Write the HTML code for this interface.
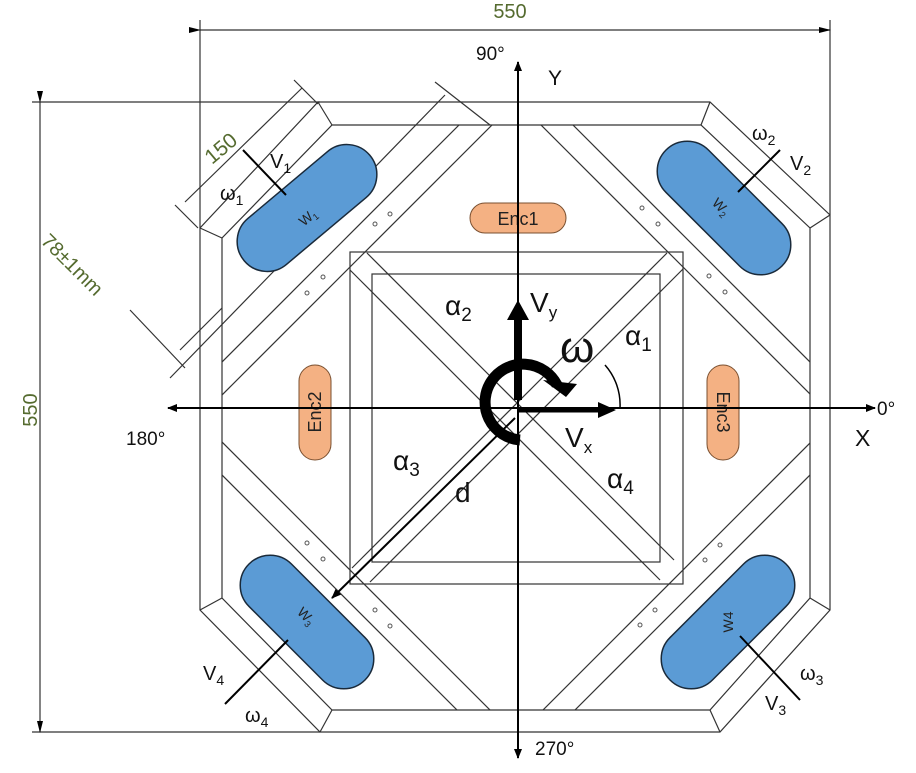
<!DOCTYPE html>
<html><head><meta charset="utf-8"><style>
html,body{margin:0;padding:0;background:#fff;overflow:hidden}
svg{display:block;font-family:"Liberation Sans",sans-serif}
</style></head><body>
<svg width="916" height="773" viewBox="0 0 916 773">
<defs>
<clipPath id="ioct"><polygon points="332,125 701,125 810,228 810,598 710,710 332,710 222,598 222,238"/></clipPath>
<marker id="ah" markerWidth="10" markerHeight="8" refX="9" refY="4" orient="auto" markerUnits="userSpaceOnUse"><path d="M0,0 L10,4 L0,8z" fill="#000"/></marker>
<marker id="ahs" markerWidth="12" markerHeight="6" refX="11" refY="3" orient="auto" markerUnits="userSpaceOnUse"><path d="M0,0 L12,3 L0,6z" fill="#000"/></marker>
</defs>
<g stroke="#333" stroke-width="1.2" fill="none">
<g>
<line x1="200" y1="20" x2="200" y2="228"/><line x1="830" y1="20" x2="830" y2="215"/>
<line x1="200" y1="30" x2="830" y2="30" marker-start="url(#ahs)" marker-end="url(#ahs)"/>
<line x1="32" y1="102" x2="320" y2="102"/><line x1="32" y1="732" x2="320" y2="732"/>
<line x1="40" y1="102" x2="40" y2="732" marker-start="url(#ahs)" marker-end="url(#ahs)"/>
<line x1="185" y1="202" x2="302" y2="88"/>
<line x1="175" y1="205" x2="198" y2="228"/><line x1="294" y1="80" x2="318" y2="104"/>
<line x1="170" y1="378" x2="445" y2="95"/>
<line x1="130" y1="310" x2="185" y2="368"/><line x1="435" y1="82" x2="490" y2="125"/>
<line x1="180" y1="350" x2="222" y2="308"/>
</g>
<polygon points="318,102 710,102 830,215 830,610 720,732 320,732 200,610 200,228"/>
<polygon points="332,125 701,125 810,228 810,598 710,710 332,710 222,598 222,238"/>
<g>
<line x1="318" y1="102" x2="332" y2="125"/><line x1="200" y1="228" x2="222" y2="238"/>
<line x1="710" y1="102" x2="701" y2="125"/><line x1="830" y1="215" x2="810" y2="228"/>
<line x1="200" y1="610" x2="222" y2="598"/><line x1="320" y1="732" x2="332" y2="710"/>
<line x1="830" y1="610" x2="810" y2="598"/><line x1="720" y1="732" x2="710" y2="710"/>
</g>
<g>
<rect x="350" y="252" width="333" height="332"/>
<rect x="372" y="274" width="288" height="288"/>
</g>
<g clip-path="url(#ioct)">
<line x1="0" y1="584" x2="584" y2="0"/><line x1="0" y1="617" x2="617" y2="0"/>
<line x1="416" y1="0" x2="1100" y2="684"/><line x1="448" y1="0" x2="1100" y2="652"/>
<line x1="0" y1="253" x2="800" y2="1053"/><line x1="0" y1="220" x2="800" y2="1020"/>
<line x1="1253" y1="0" x2="0" y2="1253"/><line x1="1285" y1="0" x2="0" y2="1285"/>
</g>
<g>
<line x1="352" y1="568" x2="667" y2="253"/><line x1="370" y1="582" x2="683" y2="269"/>
<line x1="367" y1="253" x2="674" y2="560"/><line x1="350" y1="270" x2="660" y2="580"/>
</g>
</g>
<g fill="#fff" stroke="#555" stroke-width="1">
<circle cx="375" cy="224" r="2"/><circle cx="390" cy="214" r="2"/><circle cx="307" cy="293" r="2"/><circle cx="323" cy="277" r="2"/>
<circle cx="642" cy="208" r="2"/><circle cx="658" cy="224" r="2"/><circle cx="709" cy="276" r="2"/><circle cx="725" cy="292" r="2"/>
<circle cx="307" cy="543" r="2"/><circle cx="323" cy="559" r="2"/><circle cx="375" cy="610" r="2"/><circle cx="390" cy="626" r="2"/>
<circle cx="640" cy="625" r="2"/><circle cx="655" cy="610" r="2"/><circle cx="705" cy="560" r="2"/><circle cx="720" cy="545" r="2"/>
</g>
<g stroke="#1a2a3a" stroke-width="1.5" fill="#5b9bd5">
<rect x="-82" y="-30" width="164" height="60" rx="30" transform="translate(307,208) rotate(-40)"/>
<rect x="-82" y="-30" width="164" height="60" rx="30" transform="translate(724,208) rotate(45)"/>
<rect x="-82" y="-30" width="164" height="60" rx="30" transform="translate(307,622) rotate(45)"/>
<rect x="-82" y="-30" width="164" height="60" rx="30" transform="translate(728,622) rotate(-45)"/>
</g>
<g font-size="14" fill="#222">
<text x="297" y="222" transform="rotate(-40 307 215)">W<tspan font-size="9" dy="3">1</tspan></text>
<text x="712" y="214" transform="rotate(45 724 208)">W<tspan font-size="9" dy="3">2</tspan></text>
<text x="296" y="622" transform="rotate(45 307 618)">W<tspan font-size="9" dy="3">3</tspan></text>
<text x="728" y="627" text-anchor="middle" transform="rotate(-90 728 622)">W4</text>
</g>
<g stroke="#000" stroke-width="2">
<line x1="243" y1="150" x2="286" y2="195"/>
<line x1="780" y1="150" x2="738" y2="192"/><line x1="225" y1="704" x2="288" y2="640"/>
<line x1="740" y1="636" x2="800" y2="700"/>
</g>
<g fill="#f4b183" stroke="#7a5030" stroke-width="1">
<rect x="470" y="203" width="96" height="30" rx="15"/>
<rect x="299" y="365" width="32" height="95" rx="16"/>
<rect x="707" y="365" width="32" height="95" rx="16"/>
</g>
<g font-size="18" fill="#222">
<text x="518" y="225" text-anchor="middle">Enc1</text>
<text x="315" y="418" text-anchor="middle" transform="rotate(-90 315 412)">Enc2</text>
<text x="723" y="418" text-anchor="middle" transform="rotate(90 723 412)">Enc3</text>
</g>
<g stroke="#000" stroke-width="2">
<line x1="518" y1="408" x2="875" y2="408" marker-end="url(#ah)"/>
<line x1="518" y1="408" x2="168" y2="408" marker-end="url(#ah)"/>
<line x1="518" y1="420" x2="518" y2="62" marker-end="url(#ah)"/>
<line x1="518" y1="420" x2="518" y2="758" marker-end="url(#ah)"/>
<line x1="515" y1="418" x2="332" y2="598" marker-end="url(#ah)"/>
</g>
<g>
<path d="M520,440 A38,38 0 1,1 557,385" stroke="#000" stroke-width="11" fill="none"/>
<path d="M543,380 L577,384 L566,397z" fill="#000"/>
<line x1="518" y1="400" x2="518" y2="318" stroke="#000" stroke-width="8"/>
<path d="M507,320 L518,300 L529,320z" fill="#000"/>
<line x1="518" y1="410" x2="600" y2="410" stroke="#000" stroke-width="5"/>
<path d="M598,402 L616,410 L598,418z" fill="#000"/>
<path d="M620,408 A60,60 0 0,0 605,365" stroke="#000" stroke-width="1.5" fill="none"/>
</g>
<g fill="#111">
<text x="510" y="18" font-size="20" fill="#556b2f" text-anchor="middle">550</text>
<text x="30" y="417" font-size="20" fill="#556b2f" text-anchor="middle" transform="rotate(-90 30 410)">550</text>
<text x="212" y="165" font-size="21" fill="#556b2f" transform="rotate(-40 212 165)">150</text>
<text x="40" y="242" font-size="20" fill="#556b2f" transform="rotate(45 40 242)">78±1mm</text>
<text x="476" y="60" font-size="19">90°</text>
<text x="548" y="85" font-size="21">Y</text>
<text x="126" y="445" font-size="19">180°</text>
<text x="877" y="415" font-size="19">0°</text>
<text x="855" y="446" font-size="23">X</text>
<text x="535" y="755" font-size="19">270°</text>
<text x="530" y="312" font-size="28">V<tspan font-size="17" dy="6">y</tspan></text>
<text x="565" y="447" font-size="28">V<tspan font-size="17" dy="6">x</tspan></text>
<text x="560" y="362" font-size="44">ω</text>
<text x="625" y="345" font-size="28">α<tspan font-size="19" dy="6">1</tspan></text>
<text x="445" y="315" font-size="28">α<tspan font-size="19" dy="6">2</tspan></text>
<text x="393" y="470" font-size="28">α<tspan font-size="19" dy="6">3</tspan></text>
<text x="607" y="488" font-size="28">α<tspan font-size="19" dy="6">4</tspan></text>
<text x="455" y="502" font-size="28">d</text>
<text x="220" y="200" font-size="20">ω<tspan font-size="14" dy="5">1</tspan></text>
<text x="270" y="168" font-size="20">V<tspan font-size="14" dy="5">1</tspan></text>
<text x="752" y="140" font-size="20">ω<tspan font-size="14" dy="5">2</tspan></text>
<text x="790" y="170" font-size="20">V<tspan font-size="14" dy="5">2</tspan></text>
<text x="800" y="680" font-size="20">ω<tspan font-size="14" dy="5">3</tspan></text>
<text x="765" y="710" font-size="20">V<tspan font-size="14" dy="5">3</tspan></text>
<text x="245" y="722" font-size="20">ω<tspan font-size="14" dy="5">4</tspan></text>
<text x="203" y="680" font-size="20">V<tspan font-size="14" dy="5">4</tspan></text>
</g>
</svg>
</body></html>
